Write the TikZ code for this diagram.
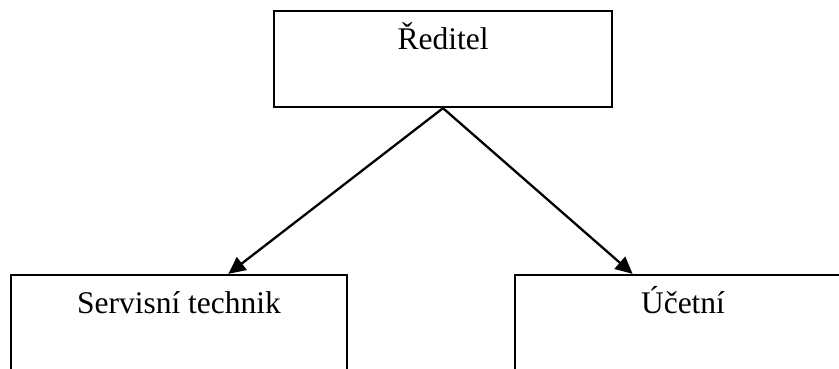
\documentclass[tikz,border=0pt]{standalone}
\usepackage{fontspec}
\setmainfont{Liberation Serif}
\usetikzlibrary{arrows.meta,calc}
\tikzset{
  box/.style={draw=black, line width=2.3pt, minimum width=336pt, minimum height=#1, inner sep=0pt},
  box/.default=96pt,
  caption/.style={anchor=base, font=\fontsize{31.5pt}{38pt}\selectfont, inner sep=0pt},
  arr/.style={line width=2.3pt, -{Triangle[length=17pt,width=16pt]}},
}
\begin{document}
\begin{tikzpicture}[x=1pt,y=-1pt]
  \useasboundingbox (0,0) rectangle (839,368);
  \clip (0,0) rectangle (839,368);
  % boxes
  \node[box=96pt, minimum width=338pt] (dir) at (443,59) {};
  \node[box=110pt] (tech) at (179,330) {};
  \node[box=110pt] (acc) at (683,330) {};
  % captions
  \node[caption] (dirtext) at ([yshift=-40pt]dir.north) {Ředitel};
  \node[caption] (techtext) at ([yshift=-40pt]tech.north) {Servisní technik};
  \node[caption] (acctext) at ([yshift=-40pt]acc.north) {Účetní};
  % connectors
  \draw[arr] (dir.south) -- ($(tech.north west)!0.646!(tech.north east)$);
  \draw[arr] (dir.south) -- ($(acc.north west)!0.351!(acc.north east)$);
\end{tikzpicture}
\end{document}
